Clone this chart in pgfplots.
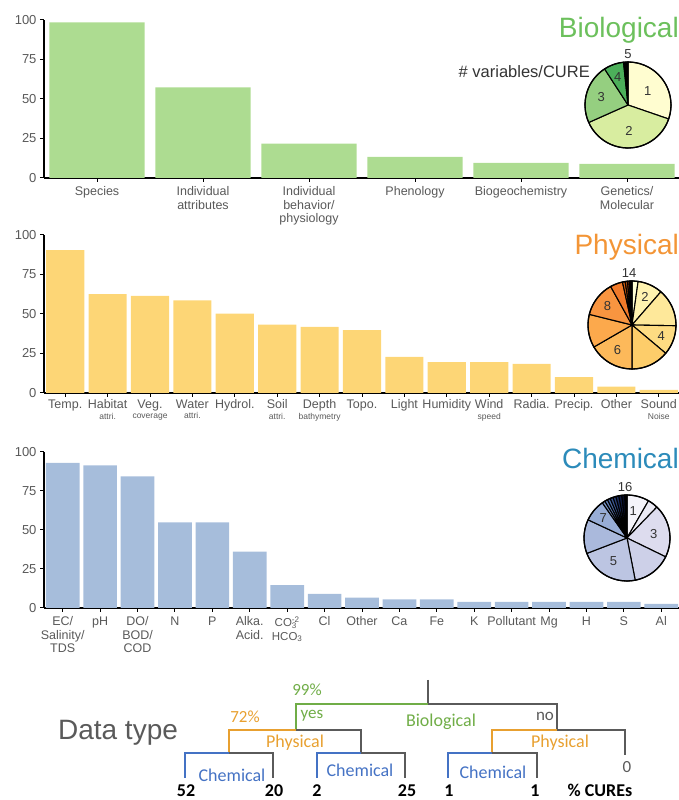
\documentclass[border=0pt]{standalone}
\usepackage{fontspec}
\setmainfont{Liberation Sans}
\newfontfamily\carlito{Carlito}
\usepackage{pgfplots}
\pgfplotsset{compat=1.18}
\usetikzlibrary{calc}
\definecolor{biobar}{HTML}{ADDC91}
\definecolor{phybar}{HTML}{FDD676}
\definecolor{chembar}{HTML}{A6BDDB}
\definecolor{biotitle}{HTML}{6CC05C}
\definecolor{phytitle}{HTML}{F39536}
\definecolor{chemtitle}{HTML}{2C8BBA}
\definecolor{tickgray}{HTML}{595959}
\definecolor{treegreen}{HTML}{70AD47}
\definecolor{treeorange}{HTML}{E8A030}
\definecolor{treeblue}{HTML}{4472C4}
\definecolor{treegray}{HTML}{5A5A5A}
% bio pie
\definecolor{b1}{HTML}{FFFDD0}\definecolor{b2}{HTML}{D8EDA0}\definecolor{b3}{HTML}{95CF80}\definecolor{b4}{HTML}{4CAF5A}
% phys pie
\definecolor{p1}{HTML}{FFFFD4}\definecolor{p2}{HTML}{FFF3B0}\definecolor{p3}{HTML}{FEE89A}\definecolor{p4}{HTML}{FEDC82}
\definecolor{p5}{HTML}{FDCD6A}\definecolor{p6}{HTML}{FDB95A}\definecolor{p7}{HTML}{FCA94C}\definecolor{p8}{HTML}{F89540}
\definecolor{p9}{HTML}{F07A2A}\definecolor{p10}{HTML}{D95F0E}\definecolor{p11}{HTML}{B34A0A}\definecolor{p12}{HTML}{8C2D04}\definecolor{p13}{HTML}{5A1A02}
% chem pie
\definecolor{c1}{HTML}{F5F4FA}\definecolor{c2}{HTML}{ECEBF5}\definecolor{c3}{HTML}{DDDCEE}\definecolor{c4}{HTML}{CDD0E8}
\definecolor{c5}{HTML}{BCC5E2}\definecolor{c6}{HTML}{AAB9DC}\definecolor{c7}{HTML}{98ADD6}
\definecolor{c8}{HTML}{7A96C8}\definecolor{c9}{HTML}{6280B8}\definecolor{c10}{HTML}{4C6AA4}\definecolor{c11}{HTML}{3A5590}
\definecolor{c12}{HTML}{2A417A}\definecolor{c13}{HTML}{1C2D60}\definecolor{c14}{HTML}{111C44}\definecolor{c15}{HTML}{080D28}
\newcommand\sub[1]{{\fontsize{8.5}{9.5}\selectfont #1}}
\newcommand\pieslice[5]{\filldraw[fill=#5, draw=black, line width=1.1pt, line join=round] (#1) -- ++(#2:#4) arc[start angle=#2, end angle=#3, radius=#4] -- cycle;}
\pgfplotsset{panel/.style={
  scale only axis, width=636pt, anchor=south west,
  ymin=0, ymax=100, ytick={0,25,50,75,100},
  axis x line*=bottom, axis y line*=left,
  axis line style={line width=1.6pt, black, -},
  every tick/.style={black, line width=1pt},
  major tick length=4pt, tick align=outside,
  xtick=data,
  /pgf/number format/assume math mode=true,
  yticklabel style={font=\fontsize{13}{14}\selectfont, text=tickgray},
  xticklabel style={font=\fontsize{12.5}{13.5}\selectfont, text=tickgray, align=center, anchor=north, yshift=-1pt},
  clip=false,
}}
\begin{document}
\begin{tikzpicture}[x=1pt,y=1pt]
\useasboundingbox (0,0) rectangle (679,800);
% ---------------- Biological
\begin{axis}[panel, at={(44pt,622pt)}, height=158pt, xmin=-0.5, xmax=5.5,
  xticklabels={Species,{Individual\\attributes},{Individual\\behavior/\\physiology},Phenology,Biogeochemistry,{Genetics/\\Molecular}}]
\addplot[ybar, bar width=0.9, fill=biobar, draw=none] coordinates {(0,98.5) (1,57.3) (2,21.8) (3,13.3) (4,9.5) (5,8.9)};
\end{axis}
% ---------------- Physical
\begin{axis}[panel, at={(44pt,407pt)}, height=158pt, xmin=-0.5, xmax=14.5,
  xticklabel style={yshift=2pt},
  xticklabels={Temp.,{Habitat\\[-3pt]\sub{attri.}},{Veg.\\[-3pt]\sub{coverage}},{Water\\[-3pt]\sub{attri.}},Hydrol.,{Soil\\[-3pt]\sub{attri.}},{Depth\\[-3pt]\sub{bathymetry}},Topo.,Light,Humidity,{Wind\\[-3pt]\sub{speed}},Radia.,Precip.,Other,{Sound\\[-3pt]\sub{Noise}}}]
\addplot[ybar, bar width=0.9, fill=phybar, draw=none] coordinates {(0,90.5) (1,62.6) (2,61.5) (3,58.6) (4,50.3) (5,43.2) (6,41.8) (7,39.8) (8,22.8) (9,19.6) (10,19.6) (11,18.4) (12,10) (13,4) (14,2)};
\end{axis}
% ---------------- Chemical
\begin{axis}[panel, at={(44pt,192pt)}, height=156pt, xmin=-0.5, xmax=16.5,
  xticklabels={{EC/\\Salinity/\\TDS},pH,{DO/\\BOD/\\COD},N,P,{Alka.\\Acid.},{\fontsize{11.5}{13.5}\selectfont CO\rlap{\textsubscript{3}}\textsuperscript{-2}\\\fontsize{11.5}{13.5}\selectfont HCO\textsubscript{3}},Cl,Other,Ca,Fe,K,Pollutant,Mg,H,S,Al}]
\addplot[ybar, bar width=0.9, fill=chembar, draw=none] coordinates {(0,93) (1,91.5) (2,84.3) (3,54.9) (4,54.9) (5,36.2) (6,14.6) (7,9.1) (8,6.6) (9,5.5) (10,5.5) (11,4) (12,4) (13,4) (14,4) (15,4) (16,2.6)};
\end{axis}
% ---------------- titles
\node[anchor=base east, text=biotitle, font=\fontsize{28}{30}\selectfont, inner sep=0pt] at (679,762) {Biological};
\node[anchor=base east, text=phytitle, font=\fontsize{28}{30}\selectfont, inner sep=0pt] at (679,545) {Physical};
\node[anchor=base east, text=chemtitle, font=\fontsize{28}{30}\selectfont, inner sep=0pt] at (679,331) {Chemical};
\node[anchor=east, text=black!80, font=\fontsize{16.5}{17}\selectfont, inner sep=0pt] at (590,728) {\# variables/CURE};
% ---------------- Biological pie
\coordinate (bc) at (628,695);
\pieslice{bc}{90}{-19}{43}{b1}
\pieslice{bc}{-19}{-156}{43}{b2}
\pieslice{bc}{-156}{-237}{43}{b3}
\pieslice{bc}{-237}{-264}{43}{b4}
\pieslice{bc}{-264}{-270}{43}{black}
\draw[line width=1.3pt] (bc) circle[radius=43];
\begin{scope}[font=\fontsize{13}{14}\selectfont, text=black!80]
\node at ($(bc)+(35:24)$) {1};
\node at ($(bc)+(-88:26)$) {2};
\node at ($(bc)+(163:28)$) {3};
\node at ($(bc)+(110:30)$) {4};
\node at ($(bc)+(0,51)$) {5};
\end{scope}
% ---------------- Physical pie
\coordinate (pc) at (632,475);
\pieslice{pc}{90}{82}{44}{p1}
\pieslice{pc}{82}{49}{44}{p2}
\pieslice{pc}{49}{-1}{44}{p3}
\pieslice{pc}{-1}{-40}{44}{p4}
\pieslice{pc}{-40}{-90}{44}{p5}
\pieslice{pc}{-90}{-150}{44}{p6}
\pieslice{pc}{-150}{-194}{44}{p7}
\pieslice{pc}{-194}{-241}{44}{p8}
\pieslice{pc}{-241}{-257.5}{44}{p9}
\pieslice{pc}{-257.5}{-261}{44}{p10}
\pieslice{pc}{-261}{-264}{44}{p11}
\pieslice{pc}{-264}{-266.5}{44}{p12}
\pieslice{pc}{-266.5}{-268.5}{44}{p13}
\pieslice{pc}{-268.5}{-270}{44}{black}
\draw[line width=1.3pt] (pc) circle[radius=44];
\begin{scope}[font=\fontsize{13}{14}\selectfont, text=black!80]
\node at ($(pc)+(65:31)$) {2};
\node at ($(pc)+(-20:31)$) {4};
\node at ($(pc)+(-120:29)$) {6};
\node at ($(pc)+(142:31)$) {8};
\node at ($(pc)+(-3,52)$) {14};
\end{scope}
% ---------------- Chemical pie
\coordinate (cc) at (627,262);
\pieslice{cc}{90}{60}{43}{c1}
\pieslice{cc}{60}{46}{43}{c2}
\pieslice{cc}{46}{-26}{43}{c3}
\pieslice{cc}{-26}{-79}{43}{c4}
\pieslice{cc}{-79}{-159}{43}{c5}
\pieslice{cc}{-159}{-205}{43}{c6}
\pieslice{cc}{-205}{-235}{43}{c7}
\pieslice{cc}{-235}{-239}{43}{c8}
\pieslice{cc}{-239}{-243}{43}{c9}
\pieslice{cc}{-243}{-247}{43}{c10}
\pieslice{cc}{-247}{-251}{43}{c11}
\pieslice{cc}{-251}{-255}{43}{c12}
\pieslice{cc}{-255}{-259}{43}{c13}
\pieslice{cc}{-259}{-263}{43}{c14}
\pieslice{cc}{-263}{-267}{43}{c15}
\pieslice{cc}{-267}{-270}{43}{black}
\draw[line width=1.3pt] (cc) circle[radius=43];
\begin{scope}[font=\fontsize{13}{14}\selectfont, text=black!80]
\node at ($(cc)+(77:28)$) {1};
\node at ($(cc)+(8:27)$) {3};
\node at ($(cc)+(-120:27)$) {5};
\node at ($(cc)+(140:31)$) {7};
\node at ($(cc)+(-2,51)$) {16};
\end{scope}
% ---------------- Tree
\begin{scope}[line width=1.5pt]
\draw[treegray] (428,120)--(428,96)--(557,96)--(557,70);
\draw[treegreen] (296,70)--(296,96)--(428,96);
\draw[treeorange] (229,47)--(229,70)--(296,70);
\draw[treegray] (296,70)--(361,70)--(361,47);
\draw[treeorange] (492,47)--(492,70)--(557,70);
\draw[treegray] (557,70)--(625,70)--(625,45);
\draw[treeblue] (185,22)--(185,47)--(229,47);
\draw[treegray] (229,47)--(273,47)--(273,22);
\draw[treeblue] (317,22)--(317,47)--(361,47);
\draw[treegray] (361,47)--(405,47)--(405,22);
\draw[treeblue] (448,22)--(448,47)--(492,47);
\draw[treegray] (492,47)--(537,47)--(537,22);
\end{scope}
\begin{scope}[font=\carlito\fontsize{17}{18}\selectfont]
\node[text=treegreen] at (307,110) {99\%};
\node[text=treegreen] at (312,84) {yes};
\node[text=treegreen, font=\carlito\fontsize{18}{19}\selectfont] at (441,78) {Biological};
\node[text=treegray] at (545,84) {no};
\node[text=treeorange] at (245,83) {72\%};
\node[text=treeorange, font=\carlito\fontsize{18}{19}\selectfont] at (295,57) {Physical};
\node[text=treeorange, font=\carlito\fontsize{18}{19}\selectfont] at (560,57) {Physical};
\node[text=treegray] at (627,33) {0};
\node[text=treeblue, font=\carlito\fontsize{18}{19}\selectfont] at (232,25) {Chemical};
\node[text=treeblue, font=\carlito\fontsize{18}{19}\selectfont] at (360,30) {Chemical};
\node[text=treeblue, font=\carlito\fontsize{18}{19}\selectfont] at (493,28) {Chemical};
\end{scope}
\begin{scope}[font=\carlito\bfseries\fontsize{18}{19}\selectfont, text=black, inner sep=0pt]
\node[anchor=base] at (186,4) {52};
\node[anchor=base] at (274,4) {20};
\node[anchor=base] at (317,4) {2};
\node[anchor=base] at (407,4) {25};
\node[anchor=base] at (449,4) {1};
\node[anchor=base] at (535,4) {1};
\node[anchor=base] at (600,4) {\% CUREs};
\end{scope}
\node[text=treegray, font=\fontsize{28}{30}\selectfont] at (118,67) {Data type};
\end{tikzpicture}
\end{document}
